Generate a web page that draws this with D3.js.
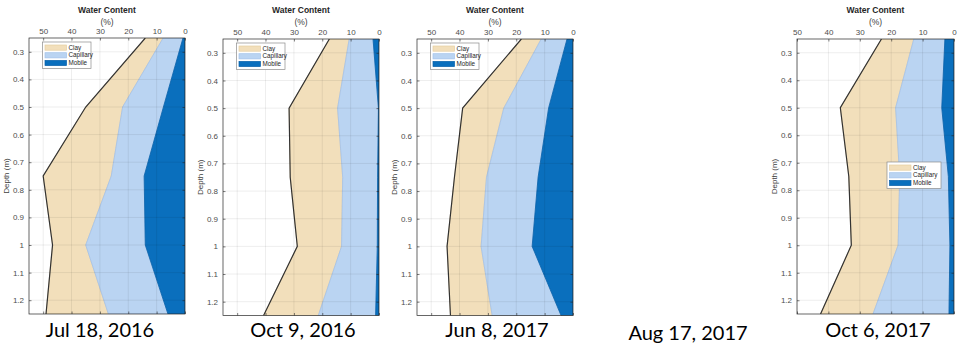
<!DOCTYPE html>
<html>
<head>
<meta charset="utf-8">
<script src="https://cdn.jsdelivr.net/npm/d3@7"></script>
<style>
  html, body { margin: 0; padding: 0; background: #ffffff; }
  svg { display: block; }
</style>
</head>
<body>
<svg id="chart" width="967" height="360"></svg>
<script>
// ---------------- DATA ----------------
const depths = [0.25, 0.5, 0.75, 1.0, 1.25];
const dateLabels = ["Jul 18, 2016", "Oct 9, 2016", "Jun 8, 2017", "Aug 17, 2017", "Oct 6, 2017"];
const seriesNames = ["Clay", "Capillary", "Mobile"];
const waterTicks = [0, 10, 20, 30, 40, 50];
const depthTicks = [0.3, 0.4, 0.5, 0.6, 0.7, 0.8, 0.9, 1.0, 1.1, 1.2];

// water content (%) of each component at each depth
const mobileJul18 = [0.7, 7.6, 14.4, 14.0, 6.0];
const capillaryJul18 = [7.0, 14.4, 11.6, 21.0, 21.0];
const clayJul18 = [6.3, 13.0, 24.0, 11.7, 22.0];

const mobileOct9 = [2.1, 0.2, 0.5, 0.6, 1.2];
const capillaryOct9 = [8.4, 14.4, 12.3, 12.6, 20.2];
const clayOct9 = [7.0, 17.1, 18.5, 15.6, 19.3];

const mobileJun8 = [2.1, 8.6, 12.3, 14.4, 4.2];
const capillaryJun8 = [9.1, 15.8, 18.2, 18.0, 24.3];
const clayJun8 = [7.0, 14.5, 11.3, 12.0, 14.7];

const mobileOct6 = [2.9, 3.9, 1.8, 1.3, 1.6];
const capillaryOct6 = [9.9, 14.7, 15.5, 16.5, 24.2];
const clayOct6 = [10.3, 17.6, 16.2, 14.9, 16.7];

// ---------------- LAYOUT / STYLE ----------------
const colors = { Clay: "#f2dfbb", Capillary: "#bad4f2", Mobile: "#0a6fbd" };
const edgeColors = { Clay: "#e6cfa2", Capillary: "#a3c2ea", Mobile: "#0a62aa" };

const panels = [
  { date: 0, mobile: mobileJul18, capillary: capillaryJul18, clay: clayJul18,
    left: 29, right: 185, top: 38, bottom: 314, xMax: 55, legend: "topleft" },
  { date: 1, mobile: mobileOct9, capillary: capillaryOct9, clay: clayOct9,
    left: 223, right: 379, top: 39, bottom: 315.5, xMax: 55, legend: "topleft" },
  { date: 2, mobile: mobileJun8, capillary: capillaryJun8, clay: clayJun8,
    left: 417, right: 573, top: 39, bottom: 315.5, xMax: 55, legend: "topleft" },
  { date: 4, mobile: mobileOct6, capillary: capillaryOct6, clay: clayOct6,
    left: 797, right: 954, top: 39, bottom: 314, xMax: 50, legend: "mid" }
];
const dateLabelPos = [
  { x: 100, y: 337 }, { x: 303, y: 337 }, { x: 497, y: 337 },
  { x: 688, y: 340 }, { x: 878, y: 337 }
];

const svg = d3.select("#chart");
const axisFont = "Helvetica, Arial, 'Liberation Sans', sans-serif";

panels.forEach((p, pi) => {
  const x = d3.scaleLinear().domain([p.xMax, 0]).range([p.left, p.right]);
  const y = d3.scaleLinear().domain([0.25, 1.25]).range([p.top, p.bottom]);
  const g = svg.append("g");

  const rows = depths.map((d, i) => ({
    depth: d, Mobile: p.mobile[i], Capillary: p.capillary[i], Clay: p.clay[i]
  }));
  const stack = d3.stack().keys(["Mobile", "Capillary", "Clay"])(rows);

  const clipId = "clip" + pi;
  g.append("clipPath").attr("id", clipId)
    .append("rect").attr("x", p.left).attr("y", p.top)
    .attr("width", p.right - p.left).attr("height", p.bottom - p.top);

  g.append("rect").attr("x", p.left).attr("y", p.top)
    .attr("width", p.right - p.left).attr("height", p.bottom - p.top)
    .attr("fill", "#ffffff");

  const dataG = g.append("g").attr("clip-path", `url(#${clipId})`);

  const area = d3.area()
    .y(d => y(d.data.depth))
    .x0(d => x(d[0]))
    .x1(d => x(d[1]));

  stack.slice().reverse().forEach(layer => {
    dataG.append("path")
      .datum(layer)
      .attr("d", area)
      .attr("fill", colors[layer.key])
      .attr("stroke", edgeColors[layer.key])
      .attr("stroke-width", 0.8);
  });

  const clayLayer = stack.find(s => s.key === "Clay");
  dataG.append("path")
    .datum(clayLayer)
    .attr("d", d3.line().x(d => x(d[1])).y(d => y(d.data.depth)))
    .attr("fill", "none")
    .attr("stroke", "#333333")
    .attr("stroke-width", 1.2);

  const gridG = g.append("g").attr("clip-path", `url(#${clipId})`);
  waterTicks.forEach(t => {
    gridG.append("line").attr("x1", x(t)).attr("x2", x(t))
      .attr("y1", p.top).attr("y2", p.bottom)
      .attr("stroke", "#000").attr("stroke-opacity", 0.09).attr("stroke-width", 0.8);
  });
  depthTicks.forEach(t => {
    gridG.append("line").attr("x1", p.left).attr("x2", p.right)
      .attr("y1", y(t)).attr("y2", y(t))
      .attr("stroke", "#000").attr("stroke-opacity", 0.09).attr("stroke-width", 0.8);
  });

  const xAxisTop = d3.axisTop(x).tickValues(waterTicks).tickSizeInner(-2.5).tickSizeOuter(0).tickPadding(4.5)
    .tickFormat(d3.format("d"));
  const xTop = g.append("g").attr("transform", `translate(0,${p.top})`).call(xAxisTop);
  const xAxisBot = d3.axisBottom(x).tickValues(waterTicks).tickSizeInner(-2.5).tickSizeOuter(0).tickFormat("");
  const xBot = g.append("g").attr("transform", `translate(0,${p.bottom})`).call(xAxisBot);
  const yAxis = d3.axisLeft(y).tickValues(depthTicks).tickSizeInner(-2.5).tickSizeOuter(0).tickPadding(5)
    .tickFormat(d => d3.format("~g")(+d.toFixed(1)));
  const yL = g.append("g").attr("transform", `translate(${p.left},0)`).call(yAxis);
  const yAxisR = d3.axisRight(y).tickValues(depthTicks).tickSizeInner(-2.5).tickSizeOuter(0).tickFormat("");
  const yR = g.append("g").attr("transform", `translate(${p.right},0)`).call(yAxisR);

  [xTop, xBot, yL, yR].forEach(a => {
    a.select(".domain").remove();
    a.selectAll(".tick line").attr("stroke", "#262626").attr("stroke-width", 0.6);
    a.selectAll(".tick text").attr("fill", "#4d4d4d")
      .style("font-family", axisFont).style("font-size", "8px");
  });

  g.append("rect").attr("x", p.left).attr("y", p.top)
    .attr("width", p.right - p.left).attr("height", p.bottom - p.top)
    .attr("fill", "none").attr("stroke", "#262626").attr("stroke-width", 0.7);

  const cx = (p.left + p.right) / 2;
  g.append("text").attr("x", cx).attr("y", 13).attr("text-anchor", "middle")
    .style("font-family", axisFont).style("font-size", "8.5px").style("font-weight", "bold")
    .attr("fill", "#262626").text("Water Content");
  g.append("text").attr("x", cx).attr("y", 25).attr("text-anchor", "middle")
    .style("font-family", axisFont).style("font-size", "8.5px")
    .attr("fill", "#404040").text("(%)");

  const cy = (p.top + p.bottom) / 2;
  g.append("text")
    .attr("transform", `translate(${p.left - 20},${cy}) rotate(-90)`)
    .attr("text-anchor", "middle")
    .style("font-family", axisFont).style("font-size", "8px")
    .attr("fill", "#404040").text("Depth (m)");

  const lw = p.legend === "mid" ? 54 : 48.5;
  const lh = 26.5;
  const lx = p.legend === "mid" ? 887 : p.left + 13.5;
  const ly = p.legend === "mid" ? 162 : p.top + 4;
  const lg = g.append("g").attr("transform", `translate(${lx},${ly})`);
  lg.append("rect").attr("width", lw).attr("height", lh)
    .attr("fill", "#ffffff").attr("stroke", "#8c8c8c").attr("stroke-width", 0.7);
  seriesNames.forEach((name, i) => {
    const ry = 3 + i * 7.7;
    lg.append("rect").attr("x", 2.5).attr("y", ry).attr("width", 21.5).attr("height", 5.2)
      .attr("fill", colors[name]).attr("stroke", edgeColors[name]).attr("stroke-width", 0.7);
    lg.append("text").attr("x", 26).attr("y", ry + 4.6)
      .style("font-family", axisFont).style("font-size", "6.3px")
      .attr("fill", "#262626").text(name);
  });
});

dateLabels.forEach((d, i) => {
  svg.append("text")
    .attr("x", dateLabelPos[i].x).attr("y", dateLabelPos[i].y)
    .attr("text-anchor", "middle")
    .style("font-family", "Lato, 'Open Sans', sans-serif")
    .style("font-size", "20px")
    .attr("fill", "#000")
    .text(d);
});
</script>
</body>
</html>
